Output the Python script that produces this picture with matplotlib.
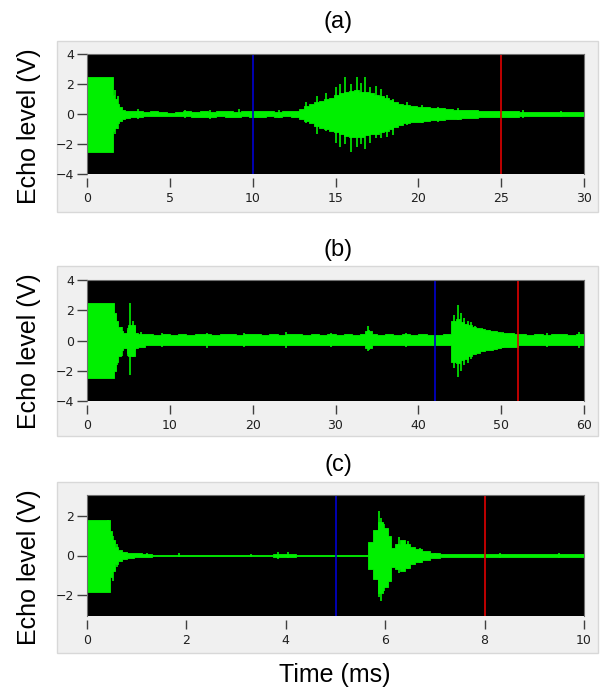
import matplotlib
matplotlib.use("Agg")
import matplotlib.pyplot as plt
from matplotlib.patches import Rectangle

# envelope of the echo signal (ms, V)
t_a = [0.0, 1.55, 1.65, 1.8, 1.95, 2.1, 2.3, 2.6, 3.0, 3.4,
       3.8, 4.3, 4.8, 5.3, 5.8, 6.3, 6.8, 7.3, 7.8, 8.3,
       8.8, 9.3, 9.8, 10.3, 10.8, 11.3, 11.8, 12.3, 12.8, 13.1,
       13.4, 13.7, 14.0, 14.3, 14.6, 14.9, 15.2, 15.5, 15.8, 16.1,
       16.4, 16.7, 17.0, 17.3, 17.6, 17.9, 18.2, 18.5, 18.8, 19.1,
       19.5, 19.9, 20.3, 20.7, 21.1, 21.6, 22.1, 22.6, 23.1, 23.6,
       24.1, 24.6, 25.1, 25.6, 26.1, 26.6, 27.1, 27.6, 28.1, 28.6,
       29.1, 29.6, 30.0]
hi_a = [2.5, 1.3, 1.0, 0.7, 0.45, 0.3, 0.22, 0.2, 0.18, 0.15,
        0.18, 0.12, 0.1, 0.12, 0.18, 0.15, 0.2, 0.15, 0.18, 0.2,
        0.15, 0.2, 0.22, 0.18, 0.2, 0.15, 0.18, 0.2, 0.35, 0.55,
        0.7, 0.8, 0.9, 1.0, 1.1, 1.3, 1.4, 1.5, 1.55, 1.6,
        1.5, 1.45, 1.4, 1.3, 1.2, 1.1, 0.95, 0.8, 0.7, 0.6,
        0.55, 0.5, 0.45, 0.42, 0.38, 0.33, 0.3, 0.27, 0.24, 0.22,
        0.2, 0.2, 0.18, 0.17, 0.15, 0.15, 0.14, 0.13, 0.13, 0.12,
        0.12, 0.11, 0.11]
lo_a = [-2.5, -1.1, -0.9, -0.6, -0.45, -0.3, -0.25, -0.2, -0.2, -0.15,
        -0.15, -0.12, -0.1, -0.12, -0.15, -0.18, -0.2, -0.18, -0.15, -0.2,
        -0.18, -0.15, -0.2, -0.2, -0.15, -0.18, -0.15, -0.2, -0.3, -0.45,
        -0.6, -0.8, -0.9, -1.0, -1.1, -1.2, -1.35, -1.45, -1.5, -1.55,
        -1.5, -1.4, -1.35, -1.3, -1.2, -1.1, -1.0, -0.85, -0.7, -0.6,
        -0.55, -0.5, -0.45, -0.4, -0.38, -0.33, -0.3, -0.27, -0.24, -0.22,
        -0.2, -0.2, -0.18, -0.17, -0.15, -0.15, -0.14, -0.13, -0.13, -0.12,
        -0.12, -0.11, -0.11]
spk_t_a = [1.7, 1.85, 3.1, 5.9, 7.4, 9.2, 11.6, 13.2, 13.9, 14.4,
           15.0, 15.3, 15.6, 15.95, 16.3, 16.55, 16.8, 17.1, 17.45, 17.75,
           18.1, 18.5, 19.3, 20.2, 21.2, 22.4, 26.3, 28.6]
spk_hi_a = [1.6, 1.2, 0.35, 0.3, 0.3, 0.35, 0.3, 0.8, 1.2, 1.4,
            1.8, 2.0, 2.5, 2.0, 2.5, 2.1, 2.5, 1.8, 1.9, 1.7,
            1.3, 1.0, 0.8, 0.6, 0.5, 0.4, 0.3, 0.22]
spk_lo_a = [-1.3, -1.0, -0.3, -0.25, -0.3, -0.2, -0.25, -0.6, -1.3, -1.1,
            -1.9, -2.2, -2.0, -2.5, -2.2, -2.0, -2.3, -1.9, -1.6, -1.6,
            -1.5, -1.4, -0.7, -0.6, -0.5, -0.4, -0.25, -0.2]

t_b = [0.0, 3.2, 3.5, 3.8, 4.1, 4.4, 4.8, 5.0, 5.8, 6.2,
       7, 8, 9, 10, 11, 12, 13, 14, 15, 16,
       17, 18, 19, 20, 21, 22, 23, 24, 25, 26,
       27, 28, 29, 30, 31, 32, 33, 33.6, 34.4, 35,
       36, 37, 38, 39, 40, 41, 42, 43, 44.0, 44.5,
       45.0, 45.5, 46.0, 46.5, 47.0, 47.5, 48.0, 48.5, 49.0, 49.5,
       50.0, 50.5, 51.0, 51.5, 52.0, 53, 54, 55, 56, 57,
       58, 59, 60]
hi_b = [2.5, 1.8, 1.3, 0.9, 0.6, 0.5, 0.7, 1.0, 0.5, 0.45,
        0.4, 0.38, 0.42, 0.38, 0.4, 0.38, 0.4, 0.42, 0.38, 0.4,
        0.42, 0.38, 0.4, 0.4, 0.38, 0.42, 0.38, 0.4, 0.42, 0.38,
        0.4, 0.38, 0.42, 0.38, 0.4, 0.38, 0.42, 0.6, 0.4, 0.38,
        0.42, 0.38, 0.4, 0.38, 0.42, 0.38, 0.38, 0.42, 1.3, 1.4,
        1.2, 1.1, 1.0, 0.9, 0.8, 0.75, 0.7, 0.65, 0.6, 0.55,
        0.5, 0.5, 0.48, 0.45, 0.4, 0.38, 0.42, 0.38, 0.4, 0.42,
        0.38, 0.4, 0.4]
lo_b = [-2.5, -2.0, -1.4, -1.0, -0.6, -0.5, -0.8, -1.0, -0.5, -0.4,
        -0.3, -0.33, -0.28, -0.3, -0.28, -0.33, -0.3, -0.28, -0.32, -0.3,
        -0.28, -0.33, -0.3, -0.28, -0.32, -0.3, -0.33, -0.28, -0.3, -0.32,
        -0.28, -0.33, -0.3, -0.32, -0.28, -0.33, -0.3, -0.5, -0.3, -0.32,
        -0.28, -0.32, -0.3, -0.33, -0.28, -0.32, -0.3, -0.3, -1.4, -1.5,
        -1.3, -1.2, -1.0, -0.9, -0.8, -0.7, -0.65, -0.6, -0.55, -0.5,
        -0.45, -0.45, -0.42, -0.4, -0.3, -0.32, -0.28, -0.32, -0.3, -0.28,
        -0.32, -0.3, -0.3]
spk_t_b = [3.6, 4.2, 4.9, 5.25, 5.5, 5.75, 6.5, 9.0, 14.5, 19.0,
           24.0, 29.5, 33.9, 34.1, 38.5, 44.3, 44.75, 45.1, 45.5, 46.0,
           46.4, 46.9, 47.7, 48.6, 50.2, 55.5, 59.4]
spk_hi_b = [1.2, 0.9, 0.8, 2.5, 1.3, 0.9, 0.55, 0.5, 0.5, 0.5,
            0.55, 0.5, 0.95, 0.7, 0.5, 1.7, 2.35, 1.8, 1.5, 1.3,
            1.2, 0.95, 0.85, 0.7, 0.55, 0.5, 0.55]
spk_lo_b = [-1.6, -1.0, -1.0, -2.3, -1.1, -0.6, -0.45, -0.45, -0.5, -0.45,
            -0.5, -0.45, -0.7, -0.6, -0.45, -1.8, -2.4, -2.0, -1.6, -1.5,
            -1.2, -0.9, -0.7, -0.6, -0.5, -0.45, -0.5]

t_c = [0.0, 0.46, 0.5, 0.56, 0.63, 0.7, 0.8, 0.95, 1.1, 1.3,
       1.6, 2.0, 2.5, 3.0, 3.5, 3.75, 4.2, 4.6, 5.0, 5.4,
       5.66, 5.75, 5.85, 5.95, 6.05, 6.12, 6.2, 6.3, 6.4, 6.5,
       6.6, 6.75, 6.9, 7.1, 7.3, 7.6, 8.0, 8.4, 8.8, 9.2,
       9.6, 10.0]
hi_c = [1.8, 1.25, 0.8, 0.45, 0.3, 0.2, 0.15, 0.12, 0.1, 0.05,
        0.03, 0.03, 0.03, 0.03, 0.04, 0.1, 0.05, 0.04, 0.04, 0.05,
        0.7, 1.3, 1.7, 1.4, 1.0, 0.4, 0.6, 0.8, 0.6, 0.45,
        0.35, 0.25, 0.15, 0.1, 0.08, 0.07, 0.07, 0.07, 0.06, 0.06,
        0.06, 0.06]
lo_c = [-1.86, -1.1, -0.8, -0.45, -0.3, -0.2, -0.15, -0.1, -0.08, -0.05,
        -0.03, -0.03, -0.03, -0.03, -0.04, -0.1, -0.05, -0.04, -0.04, -0.05,
        -0.7, -1.2, -1.9, -1.6, -1.3, -0.6, -0.7, -0.8, -0.65, -0.45,
        -0.35, -0.25, -0.15, -0.1, -0.08, -0.07, -0.07, -0.07, -0.06, -0.06,
        -0.06, -0.06]
spk_t_c = [0.42, 0.52, 0.6, 1.2, 1.85, 3.3, 3.85, 4.05, 5.87, 5.92,
           5.98, 6.28, 6.45, 6.7, 7.0, 8.3, 9.5]
spk_hi_c = [1.8, 1.0, 0.6, 0.15, 0.15, 0.1, 0.2, 0.18, 2.25, 1.9,
            1.6, 0.95, 0.75, 0.4, 0.15, 0.12, 0.12]
spk_lo_c = [-1.86, -1.3, -0.6, -0.1, -0.1, -0.1, -0.18, -0.15, -2.1, -2.3,
            -1.8, -0.9, -0.7, -0.4, -0.15, -0.12, -0.12]

titles = ["(a)", "(b)", "(c)"]
xmax = [30, 60, 10]
xstep = [5, 10, 2]
ylims = [4, 4, 3.05]
yticks = [[-4, -2, 0, 2, 4], [-4, -2, 0, 2, 4], [-2, 0, 2]]
blue_at = [10, 42, 5]
red_at = [25, 52, 8]

bodies = [(t_a, hi_a, lo_a), (t_b, hi_b, lo_b), (t_c, hi_c, lo_c)]
spikes = [(spk_t_a, spk_hi_a, spk_lo_a), (spk_t_b, spk_hi_b, spk_lo_b),
          (spk_t_c, spk_hi_c, spk_lo_c)]

W, H = 600, 691
# pixel boxes: plot area (top, bottom), gray frame (top, bottom), title y
plot_box = [(54, 174), (280, 401), (495, 616)]
frame_box = [(41, 212), (266, 436), (482, 653)]
title_y = [22, 250, 465]

green = "#00f000"
fig = plt.figure(figsize=(6, 6.91), dpi=100)

for i in range(3):
    ft, fb = frame_box[i]
    fig.add_artist(Rectangle((57 / W, 1 - fb / H), 541 / W, (fb - ft) / H,
                             transform=fig.transFigure, facecolor="#f0f0f0",
                             edgecolor="#d8d8d8", lw=1, zorder=-1))
    pt, pb = plot_box[i]
    ax = fig.add_axes([87 / W, 1 - pb / H, 497 / W, (pb - pt) / H])
    ax.set_facecolor("black")

    t, hi, lo = bodies[i]
    ax.fill_between(t, lo, hi, step="post", color=green, lw=0.6)
    st, sh, sl = spikes[i]
    ax.vlines(st, sl, sh, color=green, lw=1.2)
    ax.axvline(blue_at[i], color="#0000d0", lw=1.2)
    ax.axvline(red_at[i], color="#e00000", lw=1.2)

    ax.set_xlim(0, xmax[i])
    ax.set_ylim(-ylims[i], ylims[i])
    ax.set_xticks(range(0, xmax[i] + 1, xstep[i]))
    ax.set_yticks(yticks[i])
    for s in ["left", "top", "right"]:
        ax.spines[s].set_color("#707070")
        ax.spines[s].set_linewidth(0.8)
    ax.spines["bottom"].set_position(("outward", 2.7))
    ax.spines["bottom"].set_visible(False)
    ax.tick_params(axis="x", direction="out", length=6.5, width=1,
                   color="#404040", labelcolor="#202020", labelsize=9, pad=4)
    ax.tick_params(axis="y", direction="out", length=7, width=1,
                   color="#404040", labelcolor="#202020", labelsize=9, pad=2.5)

    fig.text(338 / W, 1 - title_y[i] / H, titles[i], ha="center", va="center",
             fontsize=17, family="Liberation Sans")
    fig.text(29 / W, 1 - (ft + fb) / 2 / H, "Echo level (V)", rotation=90,
             ha="center", va="center", fontsize=18, family="Liberation Sans")

fig.text(335 / W, 1 - 675 / H, "Time (ms)", ha="center", va="center",
         fontsize=18, family="Liberation Sans")

plt.savefig("out.png", dpi=100)
